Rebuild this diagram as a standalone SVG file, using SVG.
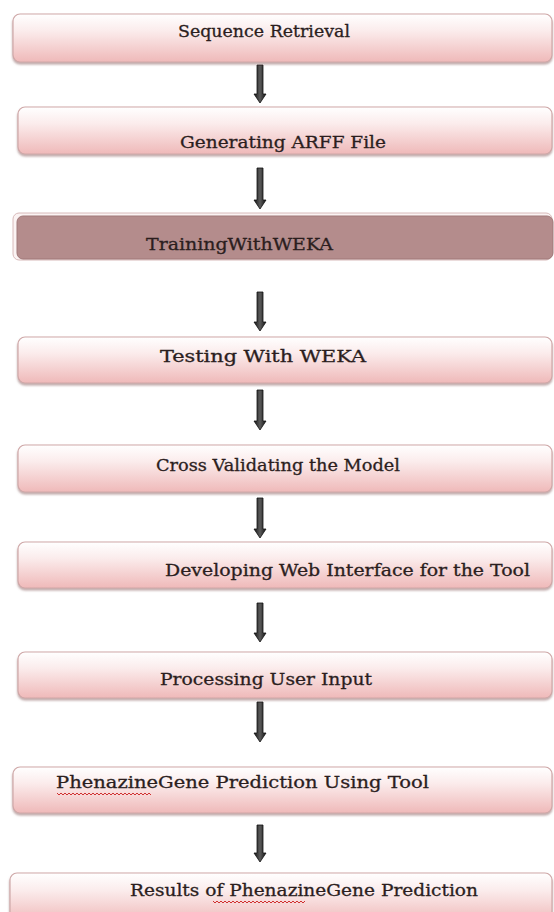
<svg xmlns="http://www.w3.org/2000/svg" width="554" height="912" viewBox="0 0 554 912">
<defs>
<linearGradient id="pink" x1="0" y1="0" x2="0" y2="1">
<stop offset="0" stop-color="#ffffff"/>
<stop offset="0.35" stop-color="#fbecec"/>
<stop offset="1" stop-color="#efb9b9"/>
</linearGradient>
<linearGradient id="shaft" x1="0" y1="0" x2="1" y2="0">
<stop offset="0" stop-color="#151515"/>
<stop offset="0.5" stop-color="#5a5a5a"/>
<stop offset="1" stop-color="#151515"/>
</linearGradient>
<filter id="sh" x="-5%" y="-20%" width="110%" height="150%">
<feGaussianBlur in="SourceAlpha" stdDeviation="1.2"/>
<feOffset dx="0" dy="1.5" result="b"/>
<feFlood flood-color="#8a6060" flood-opacity="0.55"/>
<feComposite in2="b" operator="in"/>
<feMerge><feMergeNode/><feMergeNode in="SourceGraphic"/></feMerge>
</filter>
</defs>
<style>
.box{fill:url(#pink);stroke:#cfa8a8;stroke-width:1.2;filter:url(#sh)}
.dark{fill:#b48c8c;stroke:#a07878;stroke-width:1}
.outer{fill:#fbf3f3;stroke:#d8baba;stroke-width:1}
.t{font-family:"DejaVu Serif","Liberation Serif",serif;font-size:16.5px;fill:#2b1e1e;stroke:#2b1e1e;stroke-width:0.3}
.arrow{fill:url(#shaft);stroke:#111111;stroke-width:0.8}
.sq{fill:none;stroke:#d03030;stroke-width:1}
</style>
<rect width="554" height="912" fill="#ffffff"/>

<g id="connectors">
<path class="arrow" d="M257,65 L263,65 L263,94 L266,94 L260,103 L254,94 L257,94 Z"/>
<path class="arrow" d="M257,168 L263,168 L263,200 L266,200 L260,209 L254,200 L257,200 Z"/>
<path class="arrow" d="M257,292 L263,292 L263,322 L266,322 L260,331 L254,322 L257,322 Z"/>
<path class="arrow" d="M257,390 L263,390 L263,421 L266,421 L260,430 L254,421 L257,421 Z"/>
<path class="arrow" d="M257,498 L263,498 L263,529 L266,529 L260,538 L254,529 L257,529 Z"/>
<path class="arrow" d="M257,603 L263,603 L263,633 L266,633 L260,642 L254,633 L257,633 Z"/>
<path class="arrow" d="M257,702 L263,702 L263,733 L266,733 L260,742 L254,733 L257,733 Z"/>
<path class="arrow" d="M257,825 L263,825 L263,853 L266,853 L260,862 L254,853 L257,853 Z"/>
</g>

<g id="n1">
<rect class="box" x="13" y="14" width="539" height="48" rx="7"/>
<text class="t" x="178" y="37" textLength="172" lengthAdjust="spacingAndGlyphs">Sequence Retrieval</text>
</g>
<g id="n2">
<rect class="box" x="18" y="107" width="534" height="47" rx="7"/>
<text class="t" x="180" y="148" textLength="206" lengthAdjust="spacingAndGlyphs">Generating ARFF File</text>
</g>
<g id="n3">
<rect class="outer" x="13" y="213" width="539" height="47" rx="6"/>
<rect class="dark" x="17" y="216" width="536" height="43" rx="6"/>
<text class="t" x="146" y="250" textLength="187" lengthAdjust="spacingAndGlyphs">TrainingWithWEKA</text>
</g>
<g id="n4">
<rect class="box" x="18" y="337" width="534" height="46" rx="7"/>
<text class="t" x="160" y="362" textLength="206" lengthAdjust="spacingAndGlyphs">Testing With WEKA</text>
</g>
<g id="n5">
<rect class="box" x="18" y="445" width="534" height="47" rx="7"/>
<text class="t" x="156" y="471" textLength="244" lengthAdjust="spacingAndGlyphs">Cross Validating the Model</text>
</g>
<g id="n6">
<rect class="box" x="18" y="542" width="534" height="46" rx="7"/>
<text class="t" x="165" y="576" textLength="365" lengthAdjust="spacingAndGlyphs">Developing Web Interface for the Tool</text>
</g>
<g id="n7">
<rect class="box" x="18" y="652" width="534" height="46" rx="7"/>
<text class="t" x="160" y="685" textLength="212" lengthAdjust="spacingAndGlyphs">Processing User Input</text>
</g>
<g id="n8">
<rect class="box" x="13" y="767" width="539" height="46" rx="7"/>
<text class="t" x="56" y="788" textLength="373" lengthAdjust="spacingAndGlyphs">PhenazineGene Prediction Using Tool</text>
<path class="sq" d="M57,793 l2,2 l2,-2 l2,2 l2,-2 l2,2 l2,-2 l2,2 l2,-2 l2,2 l2,-2 l2,2 l2,-2 l2,2 l2,-2 l2,2 l2,-2 l2,2 l2,-2 l2,2 l2,-2 l2,2 l2,-2 l2,2 l2,-2 l2,2 l2,-2 l2,2 l2,-2 l2,2 l2,-2 l2,2 l2,-2 l2,2 l2,-2 l2,2 l2,-2 l2,2 l2,-2 l2,2 l2,-2 l2,2 l2,-2 l2,2 l2,-2 l2,2 l2,-2 l2,2"/>
</g>
<g id="n9">
<rect class="box" x="10" y="873" width="542" height="50" rx="7"/>
<text class="t" x="130" y="896" textLength="348" lengthAdjust="spacingAndGlyphs">Results of PhenazineGene Prediction</text>
<path class="sq" d="M213,901 l2,2 l2,-2 l2,2 l2,-2 l2,2 l2,-2 l2,2 l2,-2 l2,2 l2,-2 l2,2 l2,-2 l2,2 l2,-2 l2,2 l2,-2 l2,2 l2,-2 l2,2 l2,-2 l2,2 l2,-2 l2,2 l2,-2 l2,2 l2,-2 l2,2 l2,-2 l2,2 l2,-2 l2,2 l2,-2 l2,2 l2,-2 l2,2 l2,-2 l2,2 l2,-2 l2,2 l2,-2 l2,2 l2,-2 l2,2 l2,-2 l2,2 l2,-2"/>
</g>
</svg>
